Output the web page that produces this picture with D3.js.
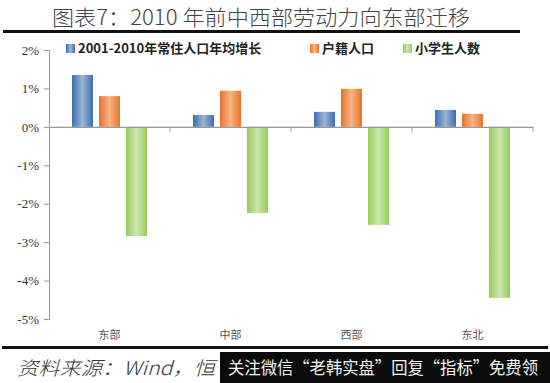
<!DOCTYPE html>
<html><head><meta charset="utf-8">
<script src="https://cdn.jsdelivr.net/npm/d3@7"></script>
<style>body{margin:0;background:#fff}svg{display:block}</style>
</head><body>
<script>
const categories = ["东部","中部","西部","东北"];
const seriesNames = ["2001-2010年常住人口年均增长","户籍人口","小学生人数"];
const resident = [1.35, 0.31, 0.39, 0.44];
const hukou = [0.80, 0.94, 0.99, 0.34];
const pupils = [-2.84, -2.24, -2.55, -4.45];
const yTicks = [2,1,0,-1,-2,-3,-4,-5];
const colors = [
  {edge:"#3a6db5", mid:"#9bb4d3"},
  {edge:"#e8712a", mid:"#f7b684"},
  {edge:"#96cc58", mid:"#cde6ae"}
];
const seriesData = [resident, hukou, pupils];

const W=550,H=383;
const svg=d3.select("body").append("svg").attr("width",W).attr("height",H);
const defs=svg.append("defs");
colors.forEach((c,i)=>{
  const g=defs.append("linearGradient").attr("id","g"+i).attr("x1","0").attr("x2","1").attr("y1","0").attr("y2","0");
  g.append("stop").attr("offset","0").attr("stop-color",c.edge);
  g.append("stop").attr("offset","0.5").attr("stop-color",c.mid);
  g.append("stop").attr("offset","1").attr("stop-color",c.edge);
});

// title
svg.append("text").attr("x",52).attr("y",25).attr("font-family","'Noto Sans CJK SC'")
  .attr("font-size",21).attr("font-weight",300).attr("fill","#444").attr("textLength",418).attr("lengthAdjust","spacingAndGlyphs")
  .text("图表7：2010 年前中西部劳动力向东部迁移");
svg.append("rect").attr("x",3).attr("y",30).attr("width",517).attr("height",3).attr("fill","#111");

const y=d3.scaleLinear().domain([-5,2]).range([319,50]);
const x=d3.scaleBand().domain(categories).range([49,533]);
const xs=d3.scaleBand().domain([0,1,2]).range([0,x.bandwidth()]).paddingInner(0.222).paddingOuter(0.852);

// y axis
const ya=svg.append("g").attr("transform","translate(49,0)")
  .call(d3.axisLeft(y).tickValues(yTicks).tickFormat(d=>d+"%").tickSize(5).tickPadding(5));
ya.select(".domain").attr("stroke","#999");
ya.selectAll(".tick line").attr("stroke","#999");
ya.selectAll(".tick text").attr("font-family","'Liberation Serif', serif").attr("font-size",13).attr("fill","#333");

// bars
seriesData.forEach((arr,si)=>{
  svg.append("g").selectAll("rect").data(arr).join("rect")
    .attr("x",(d,i)=>x(categories[i])+xs(si))
    .attr("width",xs.bandwidth())
    .attr("y",d=>y(Math.max(0,d)))
    .attr("height",d=>Math.abs(y(d)-y(0)))
    .attr("fill","url(#g"+si+")");
});

// zero axis
const xa=svg.append("g").attr("transform",`translate(0,${y(0)})`)
  .call(d3.axisBottom(x).tickSize(0).tickFormat(""));
xa.select(".domain").attr("stroke","#999").attr("stroke-width",1.2);
svg.append("g").selectAll("line").data(categories.map((c,i)=>x(c)+x.bandwidth())).join("line")
  .attr("x1",d=>d).attr("x2",d=>d).attr("y1",y(0)).attr("y2",y(0)+5).attr("stroke","#999");

// category labels
svg.append("g").selectAll("text").data(categories).join("text")
  .attr("x",d=>x(d)+x.bandwidth()/2).attr("y",339).attr("text-anchor","middle")
  .attr("font-family","'Noto Sans CJK SC'").attr("font-size",11).attr("fill","#555").text(d=>d);

// legend
const legX=[66,310,403];
seriesNames.forEach((n,i)=>{
  svg.append("rect").attr("x",legX[i]).attr("y",44).attr("width",9).attr("height",9).attr("fill","url(#g"+i+")");
  svg.append("text").attr("x",legX[i]+12).attr("y",53).attr("font-family","'Noto Sans CJK SC'")
    .attr("font-weight","bold").attr("font-size",13).attr("fill","#222").text(n);
});

// bottom rule & source
svg.append("rect").attr("x",2).attr("y",346).attr("width",546).attr("height",3).attr("fill","#111");
svg.append("text").attr("x",17).attr("y",375).attr("font-family","'Noto Sans CJK SC'")
  .attr("font-size",19).attr("font-style","italic").attr("font-weight",300).attr("fill","#333")
  .attr("textLength",198).attr("lengthAdjust","spacingAndGlyphs").text("资料来源：Wind，恒");
svg.append("rect").attr("x",220).attr("y",352).attr("width",330).attr("height",31).attr("fill","#0b0b0b");
svg.append("text").attr("x",228).attr("y",374).attr("font-family","'Noto Sans CJK SC'")
  .attr("font-size",17).attr("fill","#f2f2f2").attr("textLength",310).attr("lengthAdjust","spacingAndGlyphs")
  .text("关注微信“老韩实盘”回复“指标”免费领");
</script>
</body></html>
